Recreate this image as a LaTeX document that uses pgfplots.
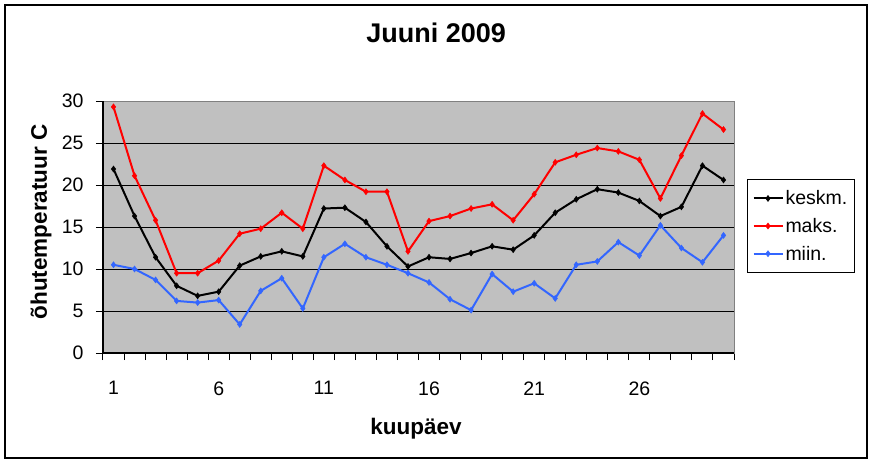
\documentclass[border=0pt]{standalone}
\usepackage{fontspec}
\setmainfont{Liberation Sans}
\usepackage{pgfplots}
\usepackage{pgfplotstable}
\pgfplotsset{compat=1.18}

\definecolor{xlgray}{RGB}{192,192,192}
\definecolor{xlblue}{RGB}{51,102,255}
\definecolor{xlborder}{RGB}{128,128,128}

% paev, keskmine, maksimum, miinimum
\pgfplotstableread{
paev keskm maks miin
1  21.9 29.3 10.5
2  16.3 21.1 10.0
3  11.4 15.8 8.7
4  8.0  9.5  6.2
5  6.8  9.5  6.0
6  7.3  11.0 6.3
7  10.4 14.2 3.4
8  11.5 14.8 7.4
9  12.1 16.7 8.9
10 11.5 14.8 5.3
11 17.2 22.3 11.4
12 17.3 20.6 13.0
13 15.6 19.2 11.4
14 12.7 19.2 10.5
15 10.3 12.1 9.5
16 11.4 15.7 8.4
17 11.2 16.3 6.4
18 11.9 17.2 5.1
19 12.7 17.7 9.4
20 12.3 15.8 7.3
21 14.0 18.9 8.3
22 16.7 22.7 6.5
23 18.3 23.6 10.5
24 19.5 24.4 10.9
25 19.1 24.0 13.2
26 18.1 23.0 11.6
27 16.3 18.4 15.2
28 17.4 23.5 12.5
29 22.3 28.5 10.8
30 20.6 26.6 14.0
}\ilmadata

\newcommand{\tickfont}{\fontsize{19.5}{23}\selectfont}
\newcommand{\labelfont}{\fontsize{22.5}{26}\selectfont\bfseries}

\begin{document}
\begin{tikzpicture}[x=1pt,y=1pt]
\path[use as bounding box] (0,0) rectangle (873,464);
\draw[line width=1.5pt] (5,6) rectangle (867,459);
\begin{axis}[
  at={(103pt,111pt)}, anchor=south west,
  scale only axis, width=631pt, height=252pt,
  xmin=0.5, xmax=30.5, ymin=0, ymax=30,
  axis background/.style={fill=xlgray},
  axis line style={draw=xlborder, line width=1pt},
  ytick={0,5,...,30},
  ymajorgrids, grid style={black, line width=1pt},
  xtick={0.5,1.5,...,30.5}, xticklabels={},
  extra x ticks={1,6,11,16,21,26},
  extra x tick labels={1,6,11,16,21,26},
  extra x tick style={major tick length=0pt, grid=none,
    tick label style={yshift=-25pt}},
  tick align=outside, major tick length=7pt,
  tick style={black, line width=1pt},
  xtick pos=bottom, ytick pos=left,
  tick label style={font=\tickfont, /pgf/number format/assume math mode=true},
  yticklabel style={xshift=-9pt},
  title={Juuni 2009},
  title style={font=\fontsize{27}{31}\selectfont\bfseries, at={(rel axis cs:0.528,1.21)}, anchor=base},
  xlabel={kuupäev},
  xlabel style={font=\labelfont, at={(rel axis cs:0.496,-0.325)}, anchor=base},
  ylabel={õhutemperatuur C},
  ylabel style={font=\labelfont, at={(rel axis cs:-0.098,0.52)}, anchor=center, rotate=0},
  legend style={at={(rel axis cs:1.0206,0.69)}, anchor=north west,
    draw=black, line width=1pt, fill=white, font=\tickfont,
    inner xsep=5pt, inner ysep=9pt, row sep=8pt,
    cells={anchor=west}},
  legend image code/.code={\draw[#1, mark=none] plot coordinates {(0pt,0pt) (29pt,0pt)};
    \path[#1, only marks] plot coordinates {(14.5pt,0pt)};},
  every axis plot/.append style={line width=2pt, mark=diamond*, mark size=3pt, mark options={solid, line width=0.5pt}},
  clip=false,
]
\addplot[black] table[x=paev, y=keskm] {\ilmadata};
\addplot[red] table[x=paev, y=maks] {\ilmadata};
\addplot[xlblue] table[x=paev, y=miin] {\ilmadata};
\legend{keskm., maks., miin.}
\draw[black, line width=1.5pt] (rel axis cs:0,1) -- (rel axis cs:0,0) -- (rel axis cs:1,0);
\end{axis}
\end{tikzpicture}
\end{document}
